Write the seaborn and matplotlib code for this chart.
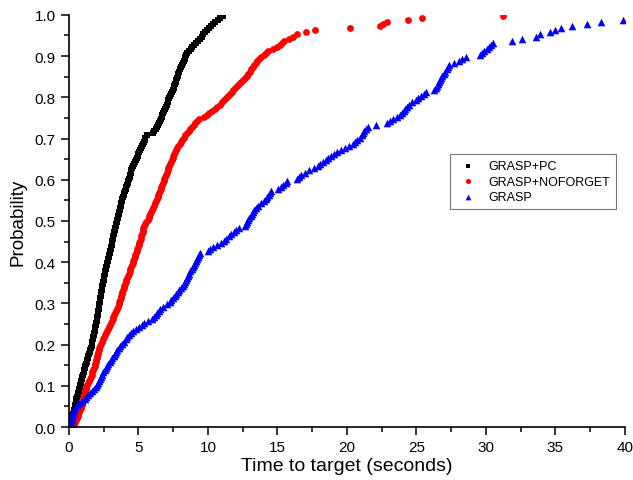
import numpy as np
import pandas as pd
import matplotlib
matplotlib.use('Agg')
import matplotlib.pyplot as plt
from matplotlib.ticker import MultipleLocator, AutoMinorLocator
import seaborn as sns

# Time-to-target observations (seconds), 200 runs per algorithm
grasp_pc = [
    0.06, 0.09, 0.12, 0.17, 0.21, 0.25, 0.29, 0.33, 0.36, 0.40,
    0.43, 0.47, 0.50, 0.54, 0.58, 0.62, 0.65, 0.69, 0.72, 0.77,
    0.81, 0.85, 0.89, 0.93, 0.97, 1.02, 1.05, 1.09, 1.14, 1.18,
    1.23, 1.27, 1.31, 1.36, 1.40, 1.45, 1.49, 1.54, 1.58, 1.62,
    1.66, 1.69, 1.72, 1.75, 1.78, 1.81, 1.84, 1.87, 1.89, 1.92,
    1.95, 1.98, 2.01, 2.03, 2.06, 2.09, 2.11, 2.14, 2.16, 2.19,
    2.21, 2.23, 2.26, 2.28, 2.31, 2.33, 2.35, 2.38, 2.40, 2.43,
    2.46, 2.49, 2.52, 2.55, 2.58, 2.61, 2.64, 2.67, 2.70, 2.74,
    2.78, 2.81, 2.85, 2.88, 2.92, 2.95, 2.99, 3.03, 3.06, 3.10,
    3.13, 3.16, 3.19, 3.23, 3.26, 3.30, 3.33, 3.36, 3.40, 3.43,
    3.48, 3.52, 3.55, 3.59, 3.63, 3.66, 3.70, 3.74, 3.77, 3.81,
    3.85, 3.90, 3.94, 3.99, 4.03, 4.08, 4.12, 4.17, 4.22, 4.26,
    4.31, 4.36, 4.40, 4.45, 4.49, 4.55, 4.61, 4.68, 4.74, 4.81,
    4.87, 4.94, 5.00, 5.06, 5.13, 5.19, 5.26, 5.32, 5.38, 5.45,
    5.50, 5.60, 6.02, 6.12, 6.25, 6.34, 6.40, 6.46, 6.52, 6.60,
    6.66, 6.72, 6.78, 6.84, 6.90, 6.96, 7.03, 7.09, 7.15, 7.22,
    7.28, 7.34, 7.40, 7.47, 7.53, 7.58, 7.63, 7.68, 7.73, 7.78,
    7.83, 7.88, 7.94, 8.00, 8.06, 8.13, 8.19, 8.25, 8.32, 8.38,
    8.44, 8.50, 8.62, 8.75, 8.88, 9.02, 9.16, 9.30, 9.42, 9.55,
    9.66, 9.78, 9.92, 10.06, 10.20, 10.35, 10.50, 10.70, 10.90, 11.10,
]

grasp_noforget = [
    0.30, 0.38, 0.45, 0.51, 0.57, 0.62, 0.68, 0.74, 0.80, 0.86,
    0.91, 0.95, 0.99, 1.02, 1.06, 1.10, 1.13, 1.17, 1.21, 1.25,
    1.30, 1.37, 1.44, 1.51, 1.57, 1.62, 1.68, 1.73, 1.79, 1.85,
    1.89, 1.93, 1.97, 2.01, 2.04, 2.08, 2.12, 2.16, 2.19, 2.23,
    2.30, 2.37, 2.45, 2.52, 2.59, 2.67, 2.74, 2.81, 2.89, 2.96,
    3.02, 3.08, 3.14, 3.20, 3.27, 3.33, 3.39, 3.45, 3.52, 3.58,
    3.62, 3.67, 3.71, 3.75, 3.80, 3.84, 3.88, 3.93, 3.97, 4.02,
    4.08, 4.13, 4.19, 4.25, 4.30, 4.36, 4.42, 4.47, 4.53, 4.59,
    4.63, 4.68, 4.73, 4.78, 4.82, 4.87, 4.92, 4.97, 5.01, 5.05,
    5.10, 5.15, 5.20, 5.25, 5.30, 5.33, 5.36, 5.40, 5.45, 5.55,
    5.66, 5.73, 5.79, 5.86, 5.92, 5.99, 6.05, 6.12, 6.18, 6.25,
    6.31, 6.37, 6.43, 6.49, 6.54, 6.60, 6.65, 6.71, 6.76, 6.82,
    6.87, 6.93, 6.98, 7.04, 7.09, 7.15, 7.21, 7.27, 7.33, 7.40,
    7.46, 7.52, 7.58, 7.64, 7.70, 7.78, 7.87, 7.96, 8.06, 8.16,
    8.26, 8.36, 8.48, 8.61, 8.73, 8.86, 8.98, 9.10, 9.24, 9.38,
    9.70, 9.90, 10.10, 10.30, 10.50, 10.67, 10.84, 11.00, 11.17, 11.33,
    11.45, 11.58, 11.70, 11.83, 11.95, 12.08, 12.22, 12.36, 12.50, 12.64,
    12.78, 12.90, 13.00, 13.12, 13.22, 13.33, 13.44, 13.55, 13.70, 13.85,
    14.00, 14.15, 14.35, 14.65, 14.95, 15.20, 15.35, 15.50, 15.80, 16.10,
    16.40, 17.05, 17.70, 20.20, 22.40, 22.60, 22.90, 24.40, 25.40, 31.20,
]

grasp = [
    0.10, 0.13, 0.16, 0.19, 0.22, 0.25, 0.28, 0.32, 0.37, 0.44,
    0.56, 0.72, 0.90, 1.12, 1.25, 1.38, 1.52, 1.65, 1.78, 1.93,
    2.03, 2.10, 2.17, 2.25, 2.32, 2.39, 2.47, 2.56, 2.66, 2.75,
    2.84, 2.94, 3.03, 3.12, 3.22, 3.31, 3.40, 3.49, 3.58, 3.67,
    3.81, 3.94, 4.07, 4.19, 4.32, 4.45, 4.63, 4.83, 5.03, 5.23,
    5.40, 5.70, 6.00, 6.12, 6.23, 6.35, 6.46, 6.58, 6.80, 7.02,
    7.25, 7.37, 7.48, 7.60, 7.71, 7.83, 7.94, 8.06, 8.17, 8.29,
    8.36, 8.44, 8.51, 8.59, 8.67, 8.74, 8.82, 8.90, 8.97, 9.05,
    9.13, 9.21, 9.30, 9.38, 9.46, 10.00, 10.12, 10.35, 10.62, 10.92,
    11.15, 11.33, 11.50, 11.68, 11.85, 12.02, 12.20, 12.64, 12.72, 12.81,
    12.90, 12.99, 13.08, 13.17, 13.26, 13.35, 13.44, 13.60, 13.85, 14.05,
    14.17, 14.27, 14.36, 14.46, 14.56, 15.06, 15.25, 15.43, 15.62, 15.70,
    16.40, 16.55, 16.70, 16.95, 17.30, 17.60, 17.90, 18.10, 18.30, 18.48,
    18.66, 18.84, 19.05, 19.30, 19.55, 19.85, 20.15, 20.45, 20.60, 20.75,
    20.92, 21.06, 21.16, 21.26, 21.36, 21.50, 22.09, 22.90, 23.10, 23.35,
    23.60, 23.82, 23.95, 24.08, 24.20, 24.33, 24.50, 24.72, 24.95, 25.15,
    25.35, 25.55, 25.72, 26.30, 26.38, 26.46, 26.54, 26.62, 26.70, 26.78,
    26.88, 26.98, 27.08, 27.18, 27.28, 27.38, 27.70, 28.05, 28.30, 28.55,
    29.60, 29.75, 29.90, 30.05, 30.20, 30.35, 30.50, 31.90, 32.60, 33.60,
    33.90, 34.60, 35.00, 35.40, 36.20, 37.30, 38.30, 39.90, 42.50, 47.00,
]

labels = ['GRASP+PC', 'GRASP+NOFORGET', 'GRASP']
colors = ['black', 'red', 'blue']
markers = ['s', 'o', '^']
sizes = [18, 24, 30]


def ttt_frame(times, name):
    """Empirical time-to-target distribution: sorted times vs (i - 1/2) / n."""
    t = np.sort(np.asarray(times, dtype=float))
    n = len(t)
    return pd.DataFrame({'time': t,
                         'prob': (np.arange(1, n + 1) - 0.5) / n,
                         'algo': name})


df = pd.concat([ttt_frame(grasp_pc, labels[0]),
                ttt_frame(grasp_noforget, labels[1]),
                ttt_frame(grasp, labels[2])], ignore_index=True)

sns.set_style("ticks")
plt.rcParams['font.family'] = ['Liberation Sans', 'DejaVu Sans']
plt.rcParams['text.color'] = 'black'
plt.rcParams['axes.labelcolor'] = 'black'
plt.rcParams['axes.edgecolor'] = 'black'

fig = plt.figure(figsize=(6.33, 4.81), dpi=100)
ax = fig.add_axes([0.109, 0.110, 0.878, 0.857])

for name, col, mk, sz in zip(labels, colors, markers, sizes):
    sns.scatterplot(data=df[df['algo'] == name], x='time', y='prob',
                    color=col, marker=mk, s=sz, linewidth=0,
                    label=name, ax=ax)

ax.set_xlim(0, 40)
ax.set_ylim(0, 1.0)
ax.xaxis.set_major_locator(MultipleLocator(5))
ax.xaxis.set_minor_locator(AutoMinorLocator(2))
ax.yaxis.set_major_locator(MultipleLocator(0.1))
ax.yaxis.set_minor_locator(AutoMinorLocator(2))
ax.yaxis.set_major_formatter(plt.FormatStrFormatter('%.1f'))
ax.tick_params(which='major', direction='out', length=6, width=1.1,
               labelsize=11, colors='black')
ax.tick_params(which='minor', direction='out', length=3.5, width=1.1,
               colors='black')
for side in ['left', 'bottom']:
    ax.spines[side].set_linewidth(1.2)
sns.despine(ax=ax)

ax.set_xlabel('Time to target (seconds)', fontsize=14, labelpad=2)
ax.set_ylabel('Probability', fontsize=13.5, labelpad=6)

leg = ax.legend(loc='upper left', bbox_to_anchor=(0.686, 0.662),
                borderaxespad=0, fontsize=9, frameon=True, fancybox=False,
                edgecolor='#555555', borderpad=0.45, labelspacing=0.3,
                handletextpad=0.6, markerscale=0.75)
leg.get_frame().set_linewidth(0.8)

fig.savefig('out.png', dpi=100)
